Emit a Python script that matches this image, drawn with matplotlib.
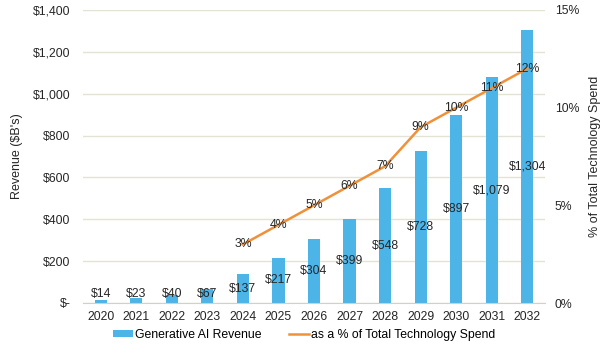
import matplotlib
matplotlib.use("Agg")
import matplotlib.pyplot as plt
from matplotlib.ticker import FuncFormatter, MultipleLocator

years = ["2020", "2021", "2022", "2023", "2024", "2025", "2026",
         "2027", "2028", "2029", "2030", "2031", "2032"]
revenue = [14, 23, 40, 67, 137, 217, 304, 399, 548, 728, 897, 1079, 1304]
pct_years = ["2024", "2025", "2026", "2027", "2028", "2029", "2030", "2031", "2032"]
pct_spend = [3, 4, 5, 6, 7, 9, 10, 11, 12]

plt.rcParams['font.family'] = ['Liberation Sans', 'DejaVu Sans']
FS = 8.8

BAR_C = "#4db4e7"
LINE_C = "#f0913a"
GRID_C = "#e4e2d4"
TXT_C = "#262626"

fig = plt.figure(figsize=(6.07, 3.49), dpi=100)
ax = fig.add_axes([83 / 607, 1 - 303 / 349, (545 - 83) / 607, (303 - 10) / 349])
ax2 = ax.twinx()

x = list(range(len(years)))
ax.bar(x, revenue, width=0.34, color=BAR_C, zorder=2, label="Generative AI Revenue")
ax.set_xlim(-0.5, len(years) - 0.5)
ax.set_ylim(0, 1400)
ax.yaxis.set_major_locator(MultipleLocator(200))
ax.yaxis.set_major_formatter(FuncFormatter(lambda v, p: "$-" if v == 0 else f"${v:,.0f}"))
ax.set_xticks(x)
ax.set_xticklabels(years)
ax.grid(axis="y", color=GRID_C, linewidth=1, zorder=0)
ax.set_axisbelow(True)
for s in ["top", "right", "left"]:
    ax.spines[s].set_visible(False)
ax.spines["bottom"].set_color("#d0d0d0")
ax.tick_params(axis="both", length=0, colors=TXT_C, labelsize=FS)
ax.tick_params(axis="x", pad=6)
ax.tick_params(axis="y", pad=9)
ax.set_ylabel("Revenue ($B's)", fontsize=9, color=TXT_C, labelpad=7)

for xi, v in zip(x, revenue):
    ypos = max(v / 2, 42)
    ax.text(xi, ypos, f"${v:,}", ha="center", va="center", fontsize=FS, color=TXT_C, zorder=4)

px = [years.index(y) for y in pct_years]
ax2.plot(px, pct_spend, color=LINE_C, linewidth=1.8, zorder=3,
         label="as a % of Total Technology Spend")
ax2.set_ylim(0, 15)
ax2.yaxis.set_major_locator(MultipleLocator(5))
ax2.yaxis.set_major_formatter(FuncFormatter(lambda v, p: f"{v:.0f}%"))
for s in ["top", "right", "left", "bottom"]:
    ax2.spines[s].set_visible(False)
ax2.tick_params(axis="y", length=0, colors=TXT_C, labelsize=FS, pad=7)
ax2.set_ylabel("% of Total Technology Spend", fontsize=9, color=TXT_C, labelpad=7)
for xi, v in zip(px, pct_spend):
    ax2.text(xi, v, f"{v}%", ha="center", va="center", fontsize=FS, color=TXT_C, zorder=4)

h1, l1 = ax.get_legend_handles_labels()
h2, l2 = ax2.get_legend_handles_labels()
fig.legend(h1 + h2, l1 + l2, loc="center", bbox_to_anchor=(304 / 607, 1 - 335 / 349),
           ncol=2, frameon=False, fontsize=FS, handlelength=1.7, handleheight=0.45,
           columnspacing=2.2, handletextpad=0.15)

fig.savefig("out.png", dpi=100)
